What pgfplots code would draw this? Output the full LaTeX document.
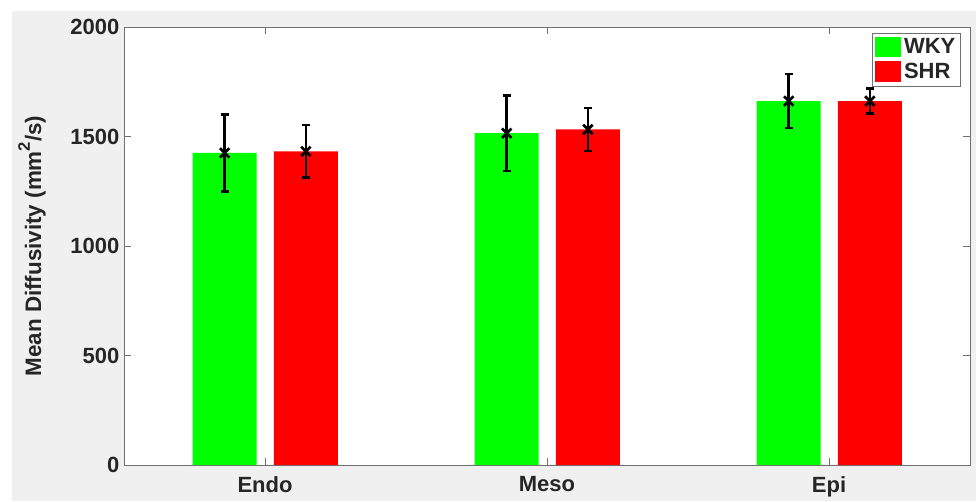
\documentclass[border=0pt]{standalone}
\usepackage{pgfplots}
\pgfplotsset{compat=1.18}
\usepackage{fontspec}
\setmainfont{Liberation Sans}
\definecolor{bggray}{HTML}{F0F0F0}
\definecolor{axgray}{HTML}{707070}
\definecolor{wky}{HTML}{00FF00}
\definecolor{shr}{HTML}{FF0000}
\begin{document}
\begin{tikzpicture}[x=1pt,y=1pt]
\path[use as bounding box] (0,0) rectangle (732,375.75);
\fill[bggray] (9,0) rectangle (732,367.5);
\begin{axis}[
  at={(93pt,27pt)}, anchor=south west,
  scale only axis, width=634.5pt, height=328.5pt,
  xmin=0.5, xmax=3.5, ymin=0, ymax=2000,
  xtick={1,2,3}, xticklabels={Endo,Meso,Epi},
  ytick={0,500,1000,1500,2000},
  tick align=inside, major tick length=5pt,
  axis background/.style={fill=white},
  axis line style={axgray, line width=0.6pt},
  every tick/.style={axgray, line width=0.6pt},
  tick label style={font=\bfseries\fontsize{16.5}{19}\selectfont, text=black!85},
  xticklabel style={yshift=-5pt},
  /pgf/number format/assume math mode=true,
  /pgf/number format/1000 sep={},
  ylabel={Mean Diffusivity (mm\raisebox{0.5em}{\fontsize{12.5}{13}\selectfont 2}/s)},
  every axis y label/.style={at={(rel axis cs:0,0.5)}, rotate=90, anchor=center, yshift=69pt,
    font=\bfseries\fontsize{16.8}{19}\selectfont, text=black!85},
  legend style={at={(1,1)}, anchor=north east, xshift=-6.75pt, yshift=-4.5pt,
    draw=axgray, font=\bfseries\fontsize{16.5}{19}\selectfont, text=black!85,
    inner sep=2pt, row sep=1.5pt, cells={anchor=west}},
  legend image code/.code={\fill[#1] (0pt,-7.5pt) rectangle (20pt,8pt);},
]
\addplot[ybar, bar width=0.227, bar shift=0pt, fill=wky, draw=none] coordinates {(0.857,1425) (1.857,1515) (2.857,1662)};
\addlegendentry{WKY}
\addplot[ybar, bar width=0.227, bar shift=0pt, fill=shr, draw=none] coordinates {(1.145,1432) (2.145,1532) (3.145,1662)};
\addlegendentry{SHR}
\addplot[forget plot, only marks, mark=x, mark size=5pt, mark options={line width=2pt, black},
  error bars/.cd, y dir=both, y explicit,
  error bar style={line width=2pt, black},
  error mark options={rotate=90, mark size=3pt, line width=2pt, black}]
  coordinates {
  (0.857,1425) +- (0,175)
  (1.857,1515) +- (0,173)
  (2.857,1662) +- (0,123)
  (1.145,1432) +- (0,120)
  (2.145,1532) +- (0,98)
  (3.145,1662) +- (0,57)
  };
\end{axis}
\end{tikzpicture}
\end{document}
